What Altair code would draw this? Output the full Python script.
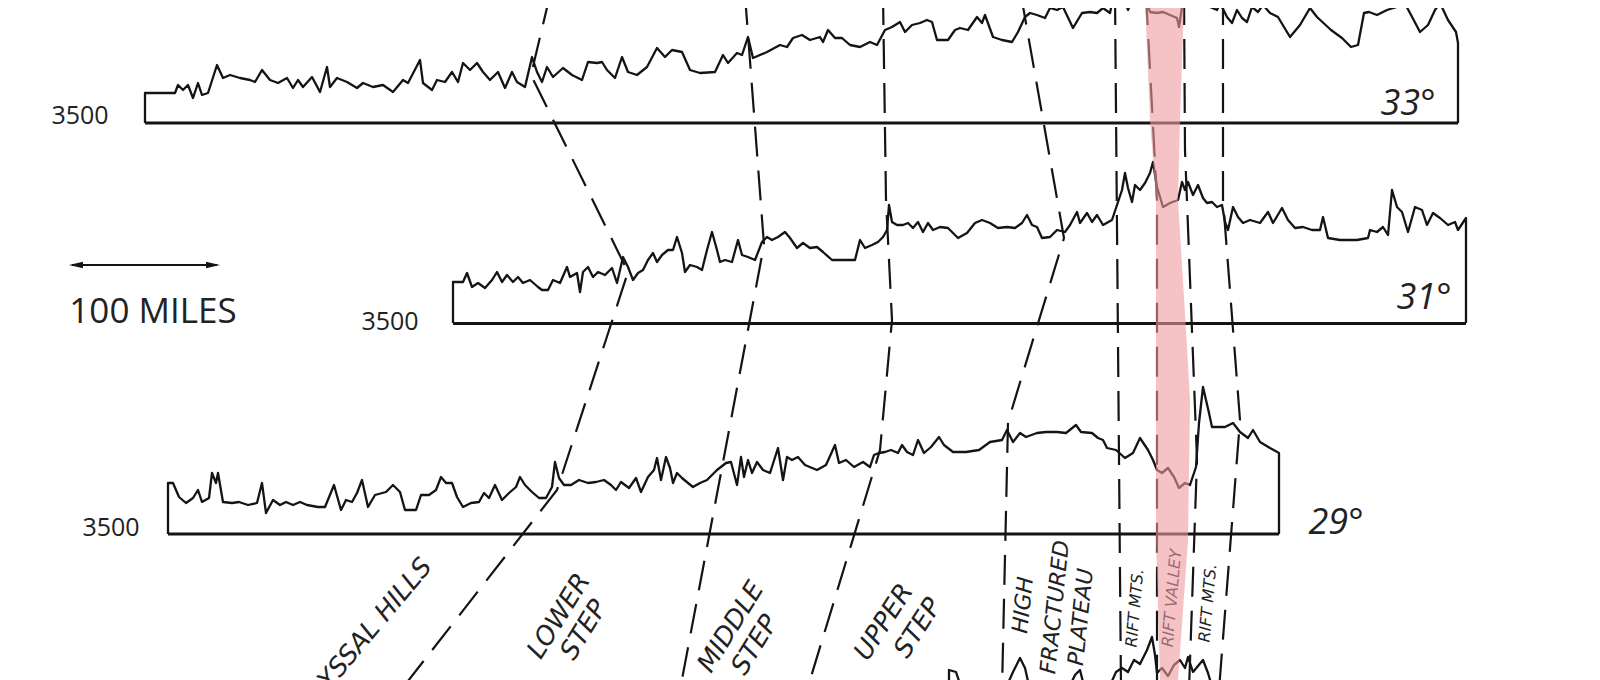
import altair as alt
import pandas as pd

# ---------------- data (figure units: px of the 1600x680 sheet) ----------
# Profile at 33 deg
p33_x = [145,145,175,178,183,188,193,198,202,208,217,223,230,240,250,255,262,270,278,287,293,298,303,312,320,327,330,337,347,357,363,373,383,393,403,408,420,423,432,437,445,452,458,463,470,477,483,490,498,505,512,517,525,532,537,542,547,553,563,572,582,588,597,602,607,615,622,628,637,647,657,665,672,682,690,700,715,723,728,737,742,748,753,767,780,787,793,802,810,820,823,828,835,842,850,860,870,877,885,892,900,905,912,920,927,932,937,948,955,960,968,977,982,985,993,1002,1012,1018,1025,1030,1037,1045,1050,1057,1063,1073,1082,1090,1097,1103,1110,1114,1122,1128,1134,1143,1147,1150,1157,1163,1170,1177,1179,1184,1204,1210,1217,1220,1227,1232,1237,1242,1247,1252,1258,1263,1270,1278,1290,1300,1310,1317,1331,1342,1351,1358,1364,1369,1377,1387,1397,1404,1410,1420,1428,1435,1440,1448,1456,1458,1458]
p33_y = [123,93,93,85,90,85,98,83,95,93,65,78,75,78,80,82,70,80,83,78,88,80,87,77,92,67,87,78,82,88,83,87,85,92,80,83,60,83,90,80,82,72,82,63,70,63,72,80,72,88,72,82,87,57,72,82,67,77,68,75,80,62,63,62,70,78,57,72,75,67,48,57,50,52,70,73,72,55,63,53,55,37,58,52,45,47,38,35,40,37,42,30,38,38,45,47,42,45,30,27,22,32,25,23,20,22,40,40,30,28,30,17,23,15,37,40,42,32,17,13,15,18,8,10,7,28,13,12,13,8,13,-6,-8,10,-6,-6,3,12,13,12,15,18,27,-6,-6,7,10,3,17,23,10,18,22,7,12,5,13,17,37,25,8,17,30,38,47,45,13,12,15,10,7,2,13,32,25,10,3,20,32,43,123]

# Profile at 31 deg
p31_x = [453,453,463,467,472,478,485,492,497,502,507,513,518,523,530,538,542,548,553,560,567,570,577,580,583,588,593,598,605,612,617,623,628,633,638,643,648,653,657,662,668,673,677,682,685,690,697,702,707,712,717,720,725,732,738,742,748,755,762,767,772,778,785,790,797,803,810,817,823,832,843,855,860,865,872,878,883,887,889,892,897,903,908,913,918,923,928,933,940,948,958,967,975,982,990,998,1007,1015,1022,1027,1032,1037,1042,1050,1057,1065,1070,1077,1080,1087,1092,1097,1103,1112,1117,1122,1125,1128,1132,1135,1140,1145,1150,1153,1157,1163,1170,1178,1182,1185,1188,1193,1198,1203,1207,1212,1217,1222,1225,1228,1233,1238,1243,1250,1260,1268,1273,1282,1288,1295,1303,1312,1320,1323,1328,1340,1357,1368,1370,1377,1383,1388,1392,1397,1402,1408,1415,1422,1427,1433,1440,1448,1455,1458,1466,1466]
p31_y = [323,282,282,273,287,283,288,280,272,282,275,282,277,283,280,287,290,290,280,283,267,277,273,292,272,267,277,272,275,268,283,257,267,280,273,270,260,253,262,255,250,250,237,253,272,265,267,270,250,232,250,262,260,262,240,255,257,260,242,237,240,237,232,238,248,243,248,247,252,260,260,260,240,248,245,242,237,230,205,222,225,225,223,228,222,232,223,230,227,228,238,233,223,220,223,228,227,228,223,215,225,227,238,237,230,232,225,212,223,213,222,215,225,220,205,190,173,188,202,185,190,183,173,162,187,207,203,200,182,190,182,195,185,198,203,202,207,205,222,230,207,217,223,220,223,212,223,208,220,228,227,230,230,217,238,240,240,238,230,232,227,235,190,207,212,232,207,210,225,213,218,225,222,230,218,323]

# Profile at 29 deg
p29_x = [168,168,173,179,186,193,198,202,209,212,216,218,223,232,239,248,257,262,266,273,280,286,293,300,307,318,325,334,341,346,352,357,362,368,375,386,393,400,405,416,421,429,436,441,446,452,457,463,471,479,484,489,495,502,509,516,520,525,532,539,546,552,555,559,564,571,579,588,596,604,611,616,621,629,636,641,648,654,657,661,666,670,673,677,682,688,693,700,707,717,726,731,737,741,744,748,752,757,763,770,778,783,787,792,798,805,817,826,835,839,846,854,863,870,874,879,885,891,898,902,907,913,918,924,931,939,944,953,966,979,990,1002,1007,1013,1020,1026,1037,1046,1057,1066,1076,1081,1092,1098,1103,1107,1116,1125,1133,1140,1148,1153,1157,1162,1168,1174,1179,1185,1190,1196,1199,1203,1209,1212,1225,1233,1240,1248,1253,1260,1270,1279,1279]
p29_y = [534,483,483,497,503,498,490,502,498,473,483,473,502,503,502,505,503,483,513,500,505,502,505,502,505,507,507,485,510,500,502,493,480,507,495,492,485,492,510,510,495,495,490,477,483,483,497,507,503,502,493,498,485,500,493,487,477,485,492,498,498,487,462,478,485,485,480,483,482,480,485,490,482,488,478,492,477,470,458,480,457,468,483,473,478,483,487,483,480,470,463,462,485,457,477,460,473,462,470,473,448,480,457,460,457,465,470,465,445,463,460,467,462,467,455,453,452,450,453,445,452,455,440,453,447,437,445,452,452,450,442,440,430,442,433,437,433,432,432,433,425,432,433,438,440,448,450,458,453,438,450,460,470,473,468,477,488,483,485,467,423,387,413,427,427,423,432,438,430,442,448,453,534]

# Fragment of the next profile, cut by the lower edge
p27_x = [949,949,956,962,1005,1013,1020,1025,1030,1068,1075,1080,1085,1108,1116,1122,1128,1134,1140,1147,1152,1155,1157,1162,1168,1174,1180,1185,1188,1193,1198,1203,1208,1213]
p27_y = [700,670,672,690,690,672,658,668,690,690,675,670,690,690,672,668,672,660,664,650,637,655,673,668,676,665,660,668,657,672,666,660,673,690]

# Datum lines of each profile (the 3500 level)
base_name = ["33°", "31°", "29°"]
base_x0 = [145, 453, 168]
base_x1 = [1458, 1466, 1279]
base_y = [123, 323.5, 534]
depth_label = ["3500", "3500", "3500"]
depth_lx = [80, 390, 111]
depth_ly = [116, 322, 528]
lat_lx = [1408, 1424, 1336]
lat_ly = [104, 298, 523]

# Dashed province boundaries (traced between the profiles)
bnd = {
    "A": ([550, 531, 628, 557, 401], [-5, 75, 272, 490, 690]),
    "B": ([745, 764, 680], [-5, 245, 690]),
    "C": ([883, 886, 892, 880, 807], [-5, 200, 320, 450, 690]),
    "D": ([1021, 1064, 1008, 1002], [-5, 238, 422, 690]),
    "E": ([1115, 1121], [-5, 690]),
    "F": ([1146, 1157, 1157], [-5, 200, 690]),
    "G": ([1184, 1185, 1197, 1189], [-5, 150, 460, 690]),
    "H": ([1223, 1223, 1240, 1219], [-5, 200, 420, 690]),
}

# Rift valley band
rift_y = [0, 120, 200, 330, 400, 540, 680]
rift_xl = [1145, 1150, 1156, 1156, 1156, 1156, 1160]
rift_xr = [1184, 1180, 1178, 1186, 1190, 1188, 1178]

# Province names
zone_text = ["LOWER", "STEP", "MIDDLE", "STEP", "UPPER", "STEP", "HIGH", "FRACTURED", "PLATEAU"]
zone_x = [559, 584, 731, 755, 884, 918, 1023, 1055, 1081]
zone_y = [616, 630, 627, 645, 622, 628, 605, 607, 617]
zone_angle = [302, 302, 302, 302, 303, 303, 276, 276, 276]
zone_size = [26, 26, 26, 26, 26, 26, 22, 22, 22]
rift_text = ["RIFT MTS.", "RIFT VALLEY", "RIFT MTS."]
rift_tx = [1135, 1172, 1208]
rift_ty = [608, 598, 603]

# Scale bar
scale_x = [69, 220]
scale_y = [265, 265]

# ---------------- build tables ----------------
rows = []
for name, xs_, ys_ in [("33", p33_x, p33_y), ("31", p31_x, p31_y), ("29", p29_x, p29_y), ("27", p27_x, p27_y)]:
    for i, (a, b) in enumerate(zip(xs_, ys_)):
        rows.append({"x": a, "y": b, "g": name, "i": i})
prof_df = pd.DataFrame(rows)

brows = []
for name, (bx, by) in bnd.items():
    for i, (a, b) in enumerate(zip(bx, by)):
        brows.append({"x": a, "y": b, "g": name, "i": i})
bnd_df = pd.DataFrame(brows)

base_df = pd.DataFrame({"g": base_name, "x0": base_x0, "x1": base_x1, "y": base_y})
depth_df = pd.DataFrame({"t": depth_label, "x": depth_lx, "y": depth_ly})
lat_df = pd.DataFrame({"t": base_name, "x": lat_lx, "y": lat_ly})
rift_df = pd.DataFrame({"y": rift_y, "xl": rift_xl, "xr": rift_xr})
zone_df = pd.DataFrame({"t": zone_text, "x": zone_x, "y": zone_y, "a": zone_angle, "s": zone_size})
rtxt_df = pd.DataFrame({"t": rift_text, "x": rift_tx, "y": rift_ty})
scale_df = pd.DataFrame({"x0": [scale_x[0] + 3], "x1": [scale_x[1] - 3], "y": [scale_y[0]]})

SX = alt.Scale(domain=[8, 1592], nice=False, zero=False)
SY = alt.Scale(domain=[8, 680], nice=False, zero=False, reverse=True)
INK = "#141414"


def X(f="x"):
    return alt.X(f"{f}:Q", scale=SX, axis=None)


def Y(f="y"):
    return alt.Y(f"{f}:Q", scale=SY, axis=None)


profiles = alt.Chart(prof_df).mark_line(
    color=INK, strokeWidth=2.3, clip=True, strokeJoin="round"
).encode(x=X(), y=Y(), detail="g:N", order="i:Q")

baselines = alt.Chart(base_df).mark_rule(color=INK, strokeWidth=3.2).encode(
    x=X("x0"), x2="x1:Q", y=Y()
)

bounds = alt.Chart(bnd_df).mark_line(
    color=INK, strokeWidth=2.2, strokeDash=[30, 14], clip=True
).encode(x=X(), y=Y(), detail="g:N", order="i:Q")

pink = alt.Chart(rift_df).mark_area(
    orient="horizontal", color="#ee9aa0", opacity=0.6, clip=True
).encode(y=Y(), x=X("xl"), x2="xr:Q")

depth_txt = alt.Chart(depth_df).mark_text(
    font="Open Sans", fontSize=25, color="#222"
).encode(x=X(), y=Y(), text="t:N")

lat_txt = alt.Chart(lat_df).mark_text(
    font="Open Sans", fontSize=36, fontStyle="italic", color="#222"
).encode(x=X(), y=Y(), text="t:N")

zone_txt = alt.Chart(zone_df).mark_text(
    font="DejaVu Sans", fontStyle="italic", color="#222", clip=True
).encode(
    x=X(), y=Y(), text="t:N",
    angle=alt.Angle("a:Q", scale=None),
    size=alt.Size("s:Q", scale=None),
)

abyssal = alt.Chart(pd.DataFrame({"t": ["ABYSSAL  HILLS"], "x": [427], "y": [562]})).mark_text(
    font="DejaVu Sans", fontStyle="italic", fontSize=26, color="#222", align="right", angle=310, clip=True
).encode(x=X(), y=Y(), text="t:N")

rift_txt = alt.Chart(rtxt_df).mark_text(
    font="DejaVu Sans", fontStyle="italic", fontSize=16, color="#222", angle=275
).encode(x=X(), y=Y(), text="t:N")

scale_rule = alt.Chart(scale_df).mark_rule(color=INK, strokeWidth=2).encode(
    x=X("x0"), x2="x1:Q", y=Y()
)
head_l = alt.Chart(pd.DataFrame({"x": [scale_x[0] + 7], "y": [scale_y[0]]})).mark_point(
    shape="M-1,0L1,-0.45L1,0.45Z", filled=True, color=INK, size=196, opacity=1
).encode(x=X(), y=Y())
head_r = alt.Chart(pd.DataFrame({"x": [scale_x[1] - 7], "y": [scale_y[1]]})).mark_point(
    shape="M1,0L-1,-0.45L-1,0.45Z", filled=True, color=INK, size=196, opacity=1
).encode(x=X(), y=Y())
miles = alt.Chart(pd.DataFrame({"t": ["100 MILES"], "x": [153], "y": [312]})).mark_text(
    font="Open Sans", fontSize=35, color="#222"
).encode(x=X(), y=Y(), text="t:N")

chart = alt.layer(
    profiles, baselines, bounds, depth_txt, lat_txt, zone_txt, abyssal, rift_txt,
    scale_rule, head_l, head_r, miles, pink
).properties(
    width=1584, height=672, padding=0,
    autosize=alt.AutoSizeParams(type="none"),
    background="white",
).configure_view(strokeWidth=0)

chart.save("out.html", embed_options={"renderer": "svg", "actions": False})
